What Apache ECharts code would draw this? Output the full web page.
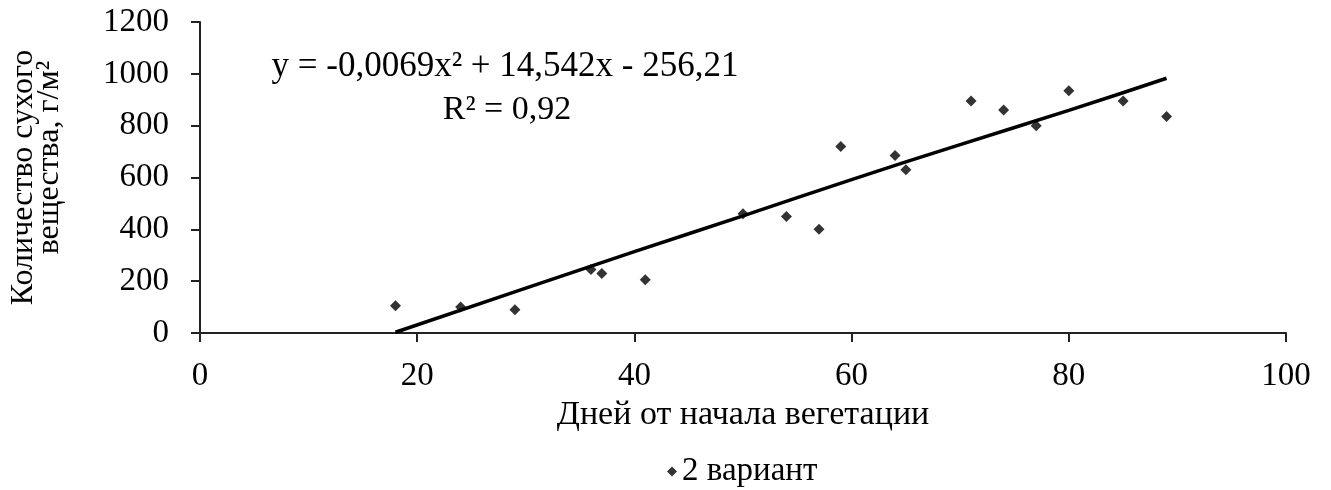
<!DOCTYPE html>
<html>
<head>
<meta charset="utf-8">
<script src="https://cdn.jsdelivr.net/npm/echarts@6/dist/echarts.min.js"></script>
<style>
  html, body { margin: 0; padding: 0; background: #fff; }
  #chart { width: 1331px; height: 490px; }
</style>
</head>
<body>
<div id="chart"></div>
<script>
// точки "2 вариант" (дни, г/м2)
const days = [18, 24, 29, 36, 37, 41, 50, 54, 57, 59, 64, 65, 71, 74, 77, 80, 85, 89];
const mass = [105, 100, 90, 245, 230, 205, 460, 450, 400, 720, 685, 630, 895, 860, 800, 935, 895, 835];

// линия тренда
const trendX = [18, 30, 40, 50, 60, 70, 80, 89];
const trendY = [3, 173, 314, 452, 592, 727, 859, 983];

const xTicks = { min: 0, max: 100, interval: 20 };
const yTicks = { min: 0, max: 1200, interval: 200 };

const seriesName = '2 вариант';
const eqText = 'y = -0,0069x² + 14,542x - 256,21';
const r2Text = 'R² = 0,92';

const font = '"Liberation Serif", "DejaVu Serif", serif';

const chart = echarts.init(document.getElementById('chart'));

chart.setOption({
  animation: false,
  textStyle: { fontFamily: font, color: '#000' },
  grid: { left: 197, right: 45, top: 22, bottom: 157 },
  legend: {
    data: [{ name: seriesName, icon: 'diamond' }],
    left: 662,
    top: 450,
    itemWidth: 10,
    itemHeight: 10,
    textStyle: { fontFamily: font, fontSize: 33, color: '#000' }
  },
  xAxis: {
    type: 'value',
    min: xTicks.min, max: xTicks.max, interval: xTicks.interval,
    name: 'Дней от начала вегетации',
    nameLocation: 'middle',
    nameGap: 62,
    nameTextStyle: { fontFamily: font, fontSize: 34, color: '#000' },
    axisLine: { lineStyle: { color: '#222', width: 2 } },
    axisTick: { length: 9, lineStyle: { color: '#222', width: 2 } },
    axisLabel: { fontFamily: font, fontSize: 33, color: '#000', margin: 27 },
    splitLine: { show: false }
  },
  yAxis: {
    type: 'value',
    min: yTicks.min, max: yTicks.max, interval: yTicks.interval,
    // вторая строка в оригинале сдвинута вверх
    name: 'Количество сухого\n\u00a0\u00a0\u00a0\u00a0\u00a0вещества, г/м²',
    nameLocation: 'middle',
    nameGap: 137,
    nameTextStyle: { fontFamily: font, fontSize: 32, color: '#000', lineHeight: 26 },
    axisLine: { show: true, lineStyle: { color: '#222', width: 2 } },
    axisTick: { show: true, length: 9, lineStyle: { color: '#222', width: 2 } },
    axisLabel: {
      fontFamily: font, fontSize: 33, color: '#000', margin: 31,
      formatter: v => String(v)
    },
    splitLine: { show: false }
  },
  graphic: [
    {
      type: 'text',
      style: { text: eqText, x: 505, y: 49, align: 'center', verticalAlign: 'top',
               fontFamily: font, fontSize: 35, fill: '#000' }
    },
    {
      type: 'text',
      style: { text: r2Text, x: 507, y: 93, align: 'center', verticalAlign: 'top',
               fontFamily: font, fontSize: 34, fill: '#000' }
    }
  ],
  series: [
    {
      name: seriesName,
      type: 'scatter',
      symbol: 'diamond',
      symbolSize: 11,
      itemStyle: { color: '#000' },
      data: days.map((d, i) => [d, mass[i]]),
      z: 3
    },
    {
      name: 'trend',
      type: 'line',
      smooth: true,
      showSymbol: false,
      lineStyle: { color: '#000', width: 3.5 },
      data: trendX.map((d, i) => [d, trendY[i]]),
      z: 2
    }
  ]
});
</script>
</body>
</html>
